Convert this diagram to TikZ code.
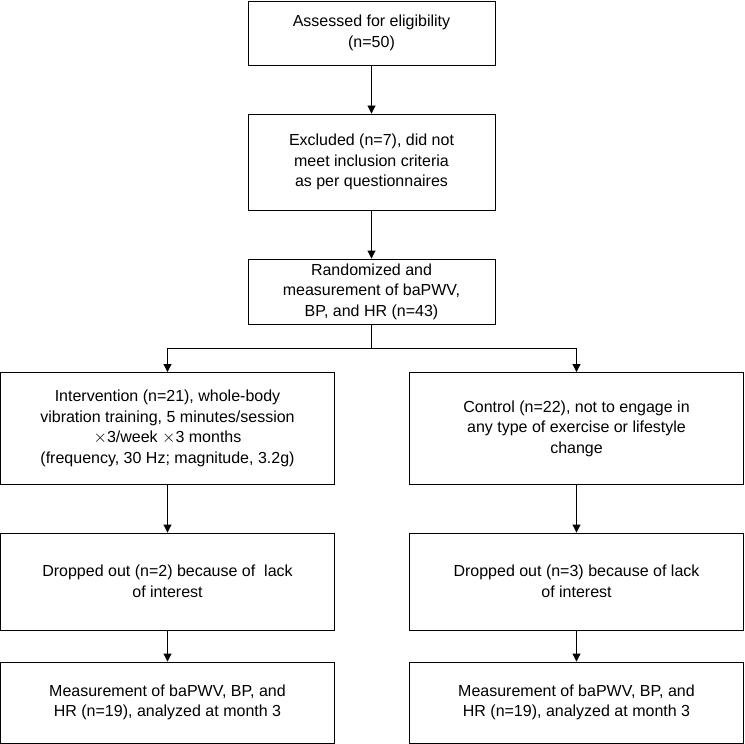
\documentclass[tikz,border=0pt]{standalone}
\usepackage{fontspec}
\setmainfont{Liberation Sans}
\usetikzlibrary{arrows.meta}

\tikzset{
  box/.style={draw, line width=0.9bp, align=center, inner sep=0pt,
    font=\fontsize{16bp}{20.5bp}\selectfont},
  arr/.style={line width=0.9bp, -{Triangle[length=8bp,width=8bp]}}
}

\begin{document}
\begin{tikzpicture}[x=1bp, y=-1bp]
  \useasboundingbox (0,0) rectangle (744,744);
  \node[box, minimum width=247bp, minimum height=64bp] (assess) at (371.5,33)
    {Assessed for eligibility\\(n=50)};
  \node[box, minimum width=247bp, minimum height=96bp] (excl) at (371.5,162)
    {Excluded (n=7), did not\\meet inclusion criteria\\as per questionnaires};
  \node[box, minimum width=247bp, minimum height=65bp] (rand) at (371.5,291.5)
    {Randomized and\\measurement of baPWV,\\BP, and HR (n=43)};
  \node[box, minimum width=334bp, minimum height=112bp] (interv) at (167.5,428.5)
    {Intervention (n=21), whole-body\\vibration training, 5 minutes/session\\$\times$3/week $\times$3 months\\(frequency, 30 Hz; magnitude, 3.2g)};
  \node[box, minimum width=334bp, minimum height=112bp] (ctrl) at (576.5,428.5)
    {Control (n=22), not to engage in\\any type of exercise or lifestyle\\change};
  \node[box, minimum width=334bp, minimum height=97bp] (dropl) at (167.5,581.5)
    {Dropped out (n=2) because of \ lack\\of interest};
  \node[box, minimum width=334bp, minimum height=97bp] (dropr) at (576.5,581.5)
    {Dropped out (n=3) because of lack\\of interest};
  \node[box, minimum width=334bp, minimum height=81bp] (measl) at (167.5,702.5)
    {Measurement of baPWV, BP, and\\HR (n=19), analyzed at month 3};
  \node[box, minimum width=334bp, minimum height=81bp] (measr) at (576.5,702.5)
    {Measurement of baPWV, BP, and\\HR (n=19), analyzed at month 3};

  \coordinate (split) at (371.5,348);
  \draw[arr] (assess) -- (excl);
  \draw[arr] (excl) -- (rand);
  \draw[line width=0.9bp] (rand.south) -- (split);
  \draw[arr] (split) -| (interv.north);
  \draw[arr] (split) -| (ctrl.north);
  \draw[arr] (interv) -- (dropl);
  \draw[arr] (ctrl) -- (dropr);
  \draw[arr] (dropl) -- (measl);
  \draw[arr] (dropr) -- (measr);
\end{tikzpicture}
\end{document}
